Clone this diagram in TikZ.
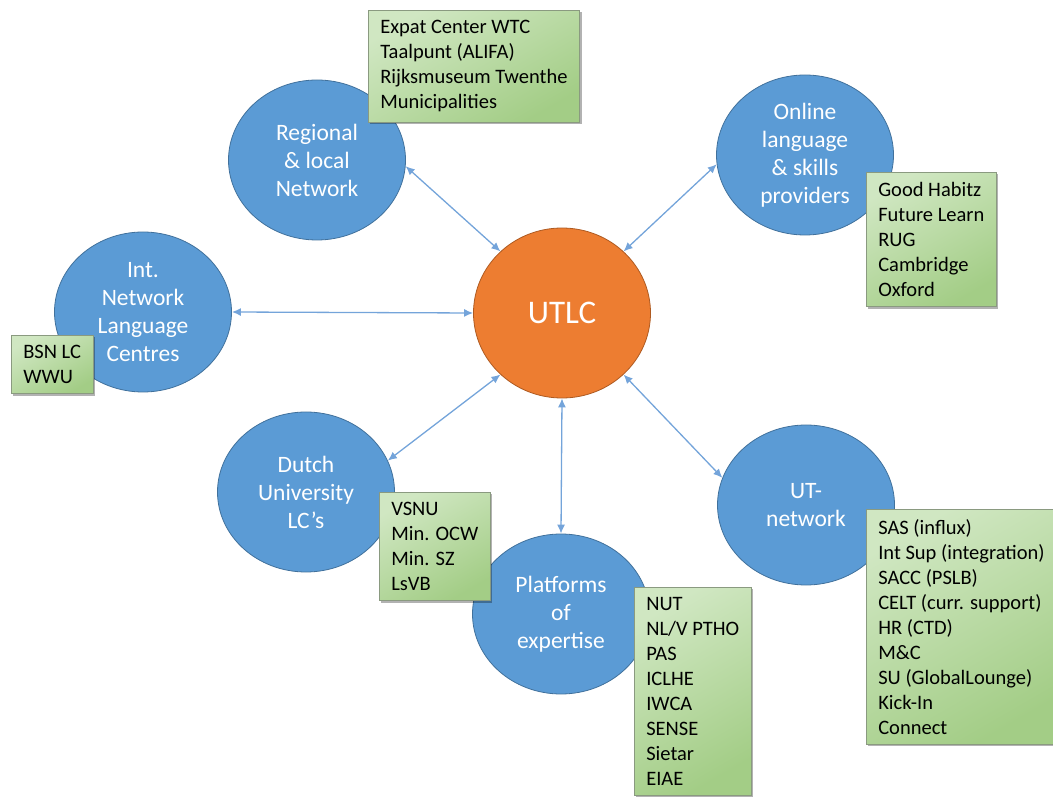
\documentclass[tikz,border=0pt]{standalone}
\usepackage{fontspec}
\setmainfont{Carlito}
\usetikzlibrary{shapes.geometric,arrows.meta,shadows}

\definecolor{hubblue}{HTML}{5B9BD5}
\definecolor{hubline}{HTML}{41719C}
\definecolor{utlcorange}{HTML}{ED7D31}
\definecolor{utlcline}{HTML}{AE5A21}
\definecolor{listlight}{HTML}{D0E7C2}
\definecolor{listdark}{HTML}{A3CD86}
\definecolor{listline}{HTML}{8A9A80}
\definecolor{linkblue}{HTML}{74A4DA}

\tikzset{
  partner/.style={ellipse, draw=hubline, line width=0.8pt, fill=hubblue, text=white,
    align=center, inner sep=0pt, minimum width=177pt, minimum height=160pt,
    font=\fontsize{23.5}{28}\selectfont},
  centre/.style={partner, draw=utlcline, fill=utlcorange, minimum height=170pt,
    font=\fontsize{33}{38}\selectfont},
  namelist/.style={rectangle, draw=listline, line width=0.6pt, top color=listlight,
    bottom color=listdark, shading angle=30, anchor=north west, align=left,
    inner xsep=12pt, inner ysep=10pt, font=\fontsize{20.5}{25}\selectfont,
    drop shadow={shadow xshift=2pt, shadow yshift=-2pt, opacity=0.3, fill=black}},
  link/.style={{Latex[length=9pt,width=8pt]}-{Latex[length=9pt,width=8pt]},
    draw=linkblue, line width=1.3pt}
}

\begin{document}
\begin{tikzpicture}[x=1pt,y=-1pt]
  \useasboundingbox (0,0) rectangle (1053,799);

  \node[centre] (utlc) at (562,313) {UTLC};
  \node[partner] (reg) at (317,160) {Regional\\\& local\\Network};
  \node[partner] (onl) at (805,155) {Online\\language\\\& skills\\providers};
  \node[partner] (int) at (143,312) {Int.\\Network\\Language\\Centres};
  \node[partner] (dut) at (306,492) {Dutch\\University\\LC’s};
  \node[partner] (plat) at (561,614) {Platforms\\of\\expertise};
  \node[partner] (utn) at (806,505) {UT-\\network};

  \draw[link] (reg.-4) -- (utlc.135);
  \draw[link] (onl.186) -- (utlc.45);
  \draw[link] (int.0) -- (utlc.180);
  \draw[link] (dut.21) -- (utlc.225);
  \draw[link] (plat.90) -- (utlc.270);
  \draw[link] (utn.162) -- (utlc.315);

  \node[namelist] (regbox) at (368,10) {Expat Center WTC\\Taalpunt (ALIFA)\\Rijksmuseum Twenthe\\Municipalities};
  \node[namelist] (onlbox) at (866,172) {Good Habitz\\Future Learn\\RUG\\Cambridge\\Oxford};
  \node[namelist] (intbox) at (11,335) {BSN LC\\WWU};
  \node[namelist] (dutbox) at (379,492) {VSNU\\Min. OCW\\Min. SZ\\LsVB};
  \node[namelist] (platbox) at (634,587) {NUT\\NL/V PTHO\\PAS\\ICLHE\\IWCA\\SENSE\\Sietar\\EIAE};
  \node[namelist] (utnbox) at (866,509) {SAS (influx)\\Int Sup (integration)\\SACC (PSLB)\\CELT (curr. support)\\HR (CTD)\\M\&C\\SU (GlobalLounge)\\Kick-In\\Connect};
\end{tikzpicture}
\end{document}
